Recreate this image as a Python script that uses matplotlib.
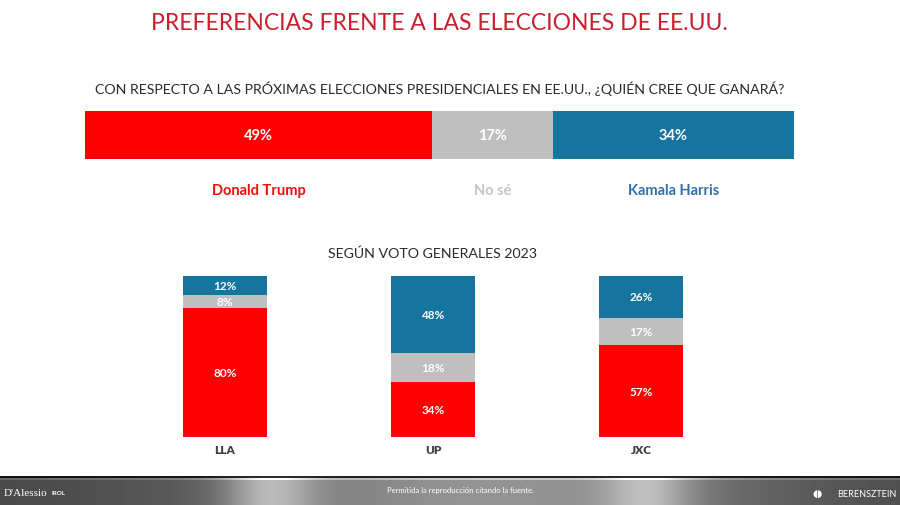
import numpy as np
import matplotlib
matplotlib.use("Agg")
import matplotlib.pyplot as plt

# ---- data ----
top_labels = ["Donald Trump", "No sé", "Kamala Harris"]
top_values = [49, 17, 34]

groups = ["LLA", "UP", "JXC"]
trump = [80, 34, 57]
nose = [8, 18, 17]
harris = [12, 48, 26]

RED = "#fe0000"
GRAY = "#bfbfbf"
BLUE = "#15759e"
colors = [RED, GRAY, BLUE]
label_colors = ["#f20d0d", "#c4c4c4", "#2f6fae"]

W, H = 900, 506
fig = plt.figure(figsize=(W / 100, H / 100), dpi=100)
plt.rcParams['font.family'] = ['Lato', 'DejaVu Sans']

def px_axes(x0, y0, x1, y1):
    return fig.add_axes([x0 / W, 1 - y1 / H, (x1 - x0) / W, (y1 - y0) / H])

# titles
fig.text(439 / W, 1 - 24 / H, "PREFERENCIAS FRENTE A LAS ELECCIONES DE EE.UU.",
         ha="center", va="center", color="#c8202e", fontsize=16.5, fontweight="normal")
fig.text(440 / W, 1 - 89 / H,
         "CON RESPECTO A LAS PRÓXIMAS ELECCIONES PRESIDENCIALES EN EE.UU., ¿QUIÉN CREE QUE GANARÁ?",
         ha="center", va="center", color="#2a2a2a", fontsize=10.2)

# top stacked bar
ax = px_axes(85, 112, 794, 160)
left = 0
for v, c, lab, lc in zip(top_values, colors, top_labels, label_colors):
    ax.barh(0, v, left=left, color=c, height=1.0, edgecolor="none")
    ax.text(left + v / 2, 0, f"{v}%", ha="center", va="center", color="white",
            fontsize=10.5, fontweight="bold")
    ax.text(left + v / 2, -1.15, lab, ha="center", va="center", color=lc,
            fontsize=10.5, fontweight="bold", clip_on=False)
    left += v
ax.set_xlim(0, 100)
ax.set_ylim(-0.5, 0.5)
ax.axis("off")

# bottom section
fig.text(432 / W, 1 - 254 / H, "SEGÚN VOTO GENERALES 2023", ha="center", va="center",
         color="#2a2a2a", fontsize=10.2)
ax2 = px_axes(121, 277, 745, 438)
x = np.arange(len(groups))
bw = 84 / 208
bottom = np.zeros(len(groups))
for series, c in zip([trump, nose, harris], colors):
    ax2.bar(x, series, bottom=bottom, width=bw, color=c, edgecolor="none")
    for xi, b, v in zip(x, bottom, series):
        ax2.text(xi, b + v / 2, f"{v}%", ha="center", va="center", color="white",
                 fontsize=8.5, fontweight="bold")
    bottom += np.array(series)
for xi, g in zip(x, groups):
    ax2.text(xi, -8, g, ha="center", va="center", color="#404040", fontsize=8.5,
             fontweight="heavy", clip_on=False)
ax2.set_xlim(-0.5, 2.5)
ax2.set_ylim(0, 100)
ax2.axis("off")

# footer band
axf = px_axes(0, 477, 900, 506)
xs = np.linspace(0, 1, 900)
base = 0.28 + 0.3 * np.exp(-((xs - 0.55) / 0.3) ** 2) + 0.3 * np.exp(-((xs - 0.3) / 0.05) ** 2) \
       + 0.25 * np.exp(-((xs - 0.72) / 0.05) ** 2)
img = np.tile(base, (29, 1))
img[:2, :] *= 0.25
img[2:4, :] = np.clip(img[2:4, :] * 1.4, 0, 1)
img = np.clip(img, 0, 1)
axf.imshow(img, cmap="gray", vmin=0, vmax=1, aspect="auto", extent=[0, 900, 29, 0])
axf.set_xlim(0, 900)
axf.set_ylim(29, 0)
axf.axis("off")
axf.text(4, 17, "D'Alessio", color="white", fontsize=8, va="center", ha="left",
         family=["Liberation Serif"])
axf.text(52, 17, "IROL", color="white", fontsize=4.5, va="center", ha="left", fontweight="bold")
axf.text(460, 14, "Permitida la reproducción citando la fuente.", color="white",
         fontsize=5.5, va="center", ha="center")
axf.text(818, 18, "◖◗", color="white", fontsize=7, va="center", ha="center")
axf.text(897, 18, "BERENSZTEIN", color="white", fontsize=6.5, va="center", ha="right")

fig.savefig("out.png", dpi=100)
